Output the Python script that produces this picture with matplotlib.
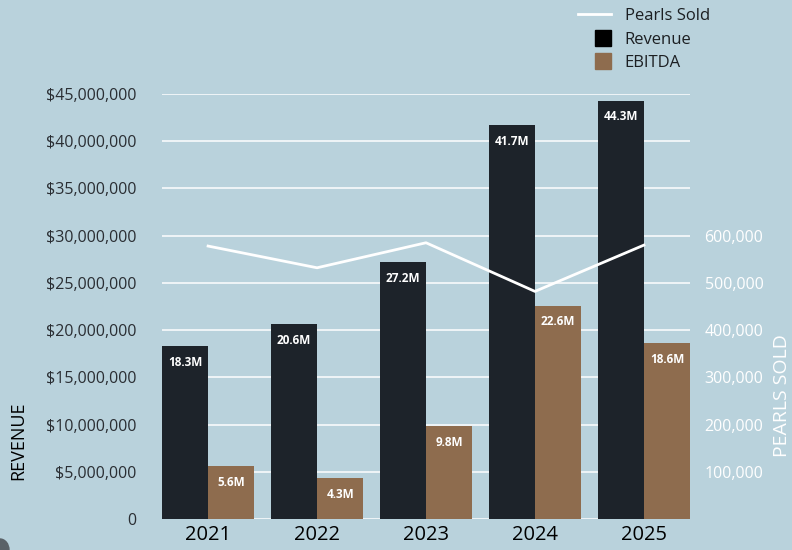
import matplotlib
matplotlib.use("Agg")
import matplotlib.pyplot as plt
from matplotlib.lines import Line2D
from matplotlib.patches import Ellipse, Rectangle, Patch
from matplotlib.legend_handler import HandlerPatch
from matplotlib.ticker import FuncFormatter
import numpy as np

plt.rcParams['font.family'] = ['Open Sans', 'DejaVu Sans']

years = ["2021", "2022", "2023", "2024", "2025"]
revenue = [18.3e6, 20.6e6, 27.2e6, 41.7e6, 44.3e6]
ebitda = [5.6e6, 4.3e6, 9.8e6, 22.6e6, 18.6e6]
pearls_sold = [578000, 532000, 585000, 482000, 580000]
revenue_ticks = list(range(0, 45000001, 5000000))
pearls_ticks = [100000, 200000, 300000, 400000, 500000, 600000]

bg = "#b9d2dc"
rev_color = "#1d232a"
ebitda_color = "#8e6c4e"
dark_text = "#2a2e33"

fig = plt.figure(figsize=(7.92, 5.5), dpi=100, facecolor=bg)
ax = fig.add_axes([162/792, 1-519/550, (690-162)/792, (519-94)/550])
ax.set_facecolor(bg)

x = np.arange(len(years))
w = 0.423
b1 = ax.bar(x - w/2, revenue, width=w, color=rev_color, zorder=2)
b2 = ax.bar(x + w/2, ebitda, width=w, color=ebitda_color, zorder=2)

for bars, vals in ((b1, revenue), (b2, ebitda)):
    for rect, v in zip(bars, vals):
        ax.annotate(f"{v/1e6:.1f}M", (rect.get_x() + rect.get_width()/2, rect.get_height()),
                    xytext=(0, -11.5), textcoords="offset points", ha="center", va="center",
                    color="white", fontsize=8.5, fontweight="bold", zorder=3)

ax.set_xlim(-w, len(years) - 1 + w)
ax.set_ylim(0, 45000000)
ax.set_yticks(revenue_ticks)
ax.yaxis.set_major_formatter(FuncFormatter(lambda v, p: "0" if v == 0 else f"${v:,.0f}"))
ax.set_xticks(x)
ax.set_xticklabels(years)
ax.grid(axis="y", color="white", linewidth=1.2, alpha=0.9, zorder=0)
ax.set_axisbelow(True)
for s in ax.spines.values():
    s.set_visible(False)
ax.tick_params(axis="y", length=0, pad=18.5, labelsize=11.5, labelcolor=dark_text)
ax.tick_params(axis="x", length=0, pad=4, labelsize=14.5, labelcolor="black")
ax.set_ylabel("REVENUE", fontsize=13, color="black")
ax.yaxis.set_label_coords(-0.255, 0.185)

ax2 = ax.twinx()
ax2.plot(x, pearls_sold, color="white", linewidth=2.0, zorder=4)
ax2.set_ylim(0, 900000)
ax2.set_yticks(pearls_ticks)
ax2.yaxis.set_major_formatter(FuncFormatter(lambda v, p: f"{v:,.0f}"))
for s in ax2.spines.values():
    s.set_visible(False)
ax2.tick_params(axis="y", length=0, pad=10.5, labelsize=11.5, labelcolor="white")
ax2.set_ylabel("PEARLS SOLD", fontsize=14, color="white", rotation=90)
ax2.yaxis.set_label_coords(1.158, 0.29)


def square_handle(legend, orig_handle, xdescent, ydescent, width, height, fontsize):
    s = 16 * 72 / 100
    return Rectangle((-xdescent + width - s, -ydescent + (height - s) / 2), s, s)


handles = [
    Line2D([], [], color="white", linewidth=2.0),
    Patch(color="black"),
    Patch(color=ebitda_color),
]
fig.legend(handles, ["Pearls Sold", "Revenue", "EBITDA"], loc="upper left",
           bbox_to_anchor=(578/792, 1 - 8/550), frameon=False, fontsize=12,
           handlelength=2.0, handletextpad=0.8, labelspacing=0.45,
           borderpad=0, borderaxespad=0, labelcolor="#1c1f22",
           handler_map={Patch: HandlerPatch(patch_func=square_handle)})

fig.add_artist(Ellipse((0.0, 0.0), 18/792, 22/550, transform=fig.transFigure,
                       color="#5a6268", zorder=5))

fig.savefig("out.png", dpi=100, facecolor=bg)
